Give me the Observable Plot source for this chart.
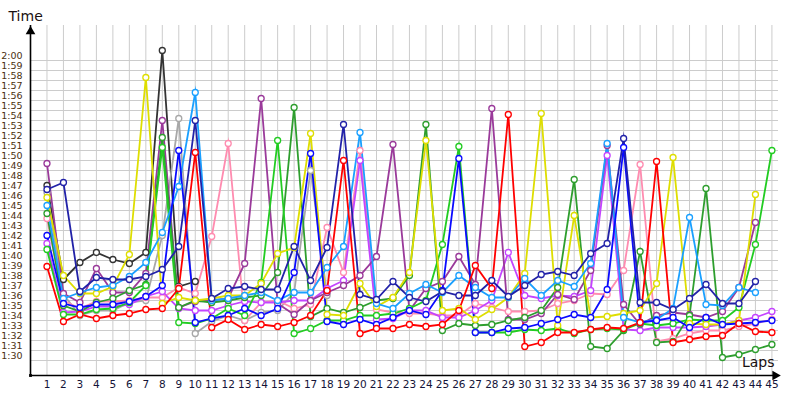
<!DOCTYPE html>
<html><head><meta charset="utf-8">
<script src="https://cdn.jsdelivr.net/npm/d3@7"></script>
<script src="https://cdn.jsdelivr.net/npm/@observablehq/plot@0.6"></script>
<style>body{margin:0;background:#fff}</style>
</head><body><div id="chart"></div>
<script>
// Lap numbers (x categories)
const laps = [1,2,3,4,5,6,7,8,9,10,11,12,13,14,15,16,17,18,19,20,21,22,23,24,25,26,27,28,29,30,31,32,33,34,35,36,37,38,39,40,41,42,43,44,45];
// Y tick values (seconds) and labels
const yTicks = [90,91,92,93,94,95,96,97,98,99,100,101,102,103,104,105,106,107,108,109,110,111,112,113,114,115,116,117,118,119,120];
const yTickLabels = ["1:30","1:31","1:32","1:33","1:34","1:35","1:36","1:37","1:38","1:39","1:40","1:41","1:42","1:43","1:44","1:45","1:46","1:47","1:48","1:49","1:50","1:51","1:52","1:53","1:54","1:55","1:56","1:57","1:58","1:59","2:00"];

// Series lap times in seconds (null = no lap)
const carDarkGray = [107.5,98.1,99.8,100.8,100.1,99.7,100.8,121.0,97.4,97.9,null,null,null,null,null,null,null,null,null,null,null,null,null,null,null,null,null,null,null,null,null,null,null,null,null,null,null,null,null,null,null,null,null,null,null];
const carGray = [106.8,96.6,94.5,95.0,95.0,95.8,96.0,102.5,114.2,92.7,93.9,94.5,94.0,94.8,95.0,96.8,109.0,96.5,null,null,null,null,null,null,null,null,null,null,null,null,null,null,null,null,null,null,null,null,null,null,null,null,null,null,null];
const carPink = [104.2,96.0,95.2,95.9,95.9,96.0,96.3,96.3,97.3,96.7,102.4,111.7,94.0,95.8,96.0,95.2,95.6,103.3,98.8,111.0,95.1,94.8,94.7,94.7,94.5,94.5,95.7,95.3,94.9,94.9,95.0,95.7,96.0,96.7,96.6,99.0,109.6,91.9,92.2,92.7,93.0,93.0,93.4,93.7,94.1];
const carMagenta = [101.7,94.8,94.9,95.4,95.4,95.6,96.4,96.9,95.2,95.0,95.0,95.5,95.9,95.8,95.8,96.0,96.0,97.2,98.0,110.0,94.1,94.2,95.0,95.0,94.3,94.3,95.0,96.0,100.8,96.5,96.2,96.5,96.4,97.0,110.5,93.1,93.0,93.3,93.3,93.3,93.4,93.6,94.0,94.3,94.9];
const carPurple = [109.7,96.7,95.8,99.2,96.8,96.8,98.7,114.0,95.3,95.9,96.0,96.2,99.7,116.2,95.7,94.6,96.0,96.8,97.5,98.5,100.4,111.6,95.0,97.2,97.9,100.4,97.6,115.2,94.1,94.1,94.7,96.6,96.1,99.0,111.5,95.6,93.6,94.5,94.8,94.6,94.3,94.9,97.3,103.8,null];
const carDarkGreen = [104.7,95.5,94.9,95.8,96.2,97.0,97.6,112.3,95.3,96.0,95.8,96.0,96.3,96.5,98.8,115.3,94.4,95.2,94.8,95.3,96.0,96.2,98.5,113.6,93.0,93.7,93.5,93.6,94.0,94.3,95.0,97.3,108.1,91.4,91.2,93.0,100.9,91.8,91.9,94.5,107.2,90.3,90.6,91.1,91.6];
const carGreen = [101.1,94.6,94.6,95.1,95.2,95.8,97.5,111.3,93.8,93.7,94.2,95.2,94.5,97.8,112.0,92.7,93.2,94.0,94.0,94.5,94.5,94.7,95.2,96.0,101.6,111.4,92.8,92.8,92.8,93.1,93.0,93.2,92.7,93.1,93.2,93.1,93.7,93.5,93.7,94.1,94.0,94.0,95.3,101.6,111.0];
const carYellow = [106.3,98.5,96.7,96.7,97.4,100.6,118.3,95.7,96.3,96.0,96.2,96.5,96.5,97.7,100.7,101.3,112.7,94.6,94.5,97.7,95.4,96.3,98.8,112.0,95.0,95.2,94.1,95.1,96.3,98.7,114.7,93.5,104.5,94.3,94.4,94.7,95.0,97.7,110.3,93.7,93.6,93.6,94.0,106.6,null];
const carLightBlue = [105.5,96.2,96.8,97.3,97.5,98.4,99.8,102.8,107.4,116.8,96.0,96.2,96.5,96.8,96.0,96.8,96.8,99.3,101.4,112.8,95.7,95.2,96.7,97.6,96.8,98.5,97.3,96.3,96.3,98.2,96.5,98.0,97.4,99.7,111.7,94.3,93.8,94.1,95.2,104.3,95.6,95.5,97.3,96.8,null];
const carBlue = [102.5,95.7,95.3,95.6,95.6,95.9,96.4,97.5,111.0,93.8,94.2,94.5,95.2,94.5,95.2,98.8,110.7,93.9,93.6,94.1,93.6,94.3,95.0,94.6,97.0,110.2,92.8,92.8,93.2,93.3,93.7,94.1,94.6,94.3,97.1,111.3,93.8,94.0,94.3,93.3,94.3,93.6,93.7,93.8,94.0];
const carNavy = [107.1,107.8,96.9,98.3,98.1,98.1,98.4,99.1,101.4,114.0,96.2,97.2,97.4,97.1,97.1,101.4,98.0,101.3,113.6,96.6,96.1,97.9,96.3,95.9,96.9,96.5,96.5,98.0,96.4,97.5,98.6,98.9,98.5,100.7,101.7,112.2,95.8,95.8,95.1,96.2,97.6,95.7,95.7,97.9,null];
const carRed = [99.4,93.9,94.6,94.2,94.5,94.7,95.1,95.2,97.2,110.8,93.3,94.1,93.1,93.6,93.4,93.8,94.5,97.0,110.0,92.7,93.2,93.2,93.6,93.4,93.6,95.0,99.5,97.2,114.6,91.4,91.8,92.8,92.8,93.1,93.3,93.2,93.8,109.9,91.8,92.1,92.4,92.5,93.7,92.9,92.8];

const seriesNames = ["Car 1","Car 2","Car 3","Car 4","Car 5","Car 6","Car 7","Car 8","Car 9","Car 10","Car 11","Car 12"];
const seriesColors = ["#333333","#a8a8a8","#ff8cb0","#c444ff","#9a3a9a","#2e9e2e","#22cc22","#dede00","#1aa0ff","#0a0aff","#2222a8","#ff0000"];
const seriesValues = [carDarkGray,carGray,carPink,carMagenta,carPurple,carDarkGreen,carGreen,carYellow,carLightBlue,carBlue,carNavy,carRed];

const rows = [];
seriesNames.forEach((name, s) => {
  seriesValues[s].forEach((v, i) => {
    if (v != null) rows.push({name, lap: laps[i], t: v});
  });
});

const chart = Plot.plot({
  width: 800,
  height: 400,
  marginLeft: 30,
  marginRight: 22,
  marginTop: 25,
  marginBottom: 25,
  style: {background: "#fff", overflow: "visible"},
  x: {domain: [0, 45.4], axis: null},
  y: {domain: [88.5, 123.5], axis: null},
  color: {type: "ordinal", domain: seriesNames, range: seriesColors},
  marks: [
    Plot.gridY(yTicks, {stroke: "#cccccc", strokeOpacity: 1, strokeWidth: 1}),
    Plot.gridX(laps, {stroke: "#cccccc", strokeOpacity: 1, strokeWidth: 1}),
    Plot.axisY(yTicks, {label: null, tickSize: 0, tickPadding: 8, dy: -5, tickFormat: (d) => yTickLabels[yTicks.indexOf(d)], fontSize: 9.5, fontFamily: "DejaVu Sans", fill: "#4a3010"}),
    Plot.axisX(laps, {label: null, tickSize: 0, tickPadding: 5, fontSize: 10.5, fontFamily: "DejaVu Sans", fill: "#141438"}),
    Plot.line(rows, {x: "lap", y: "t", z: "name", stroke: "name", strokeWidth: 1.8, strokeLinejoin: "miter", strokeMiterlimit: 8}),
    Plot.dot(rows, {x: "lap", y: "t", stroke: "name", fill: "white", r: 3, strokeWidth: 1.3}),
    Plot.ruleX([0], {stroke: "#000", strokeWidth: 1.6}),
    Plot.ruleY([88.5], {stroke: "#000", strokeWidth: 1.6}),
    Plot.dot([0], {x: 0, y: 122.9, symbol: "triangle", r: 3.6, fill: "#000", stroke: "none"}),
    Plot.dot([0], {x: 45.2, y: 88.5, symbol: "triangle", r: 3.6, fill: "#000", stroke: "none", rotate: 90}),
    Plot.dot([0], {x: 0, y: 88.5, symbol: "square", r: 1.6, fill: "#000", stroke: "none"}),
    Plot.text(["Time"], {frameAnchor: "top-left", textAnchor: "start", lineAnchor: "bottom", dx: -22, dy: -5, fontSize: 14, fontFamily: "DejaVu Sans", fill: "#1a1010"}),
    Plot.text(["Laps"], {frameAnchor: "bottom-right", textAnchor: "end", lineAnchor: "bottom", dx: -4, dy: -9, fontSize: 14, fontFamily: "DejaVu Sans", fill: "#1a1010"})
  ]
});
document.getElementById("chart").appendChild(chart);
</script>
</body></html>
